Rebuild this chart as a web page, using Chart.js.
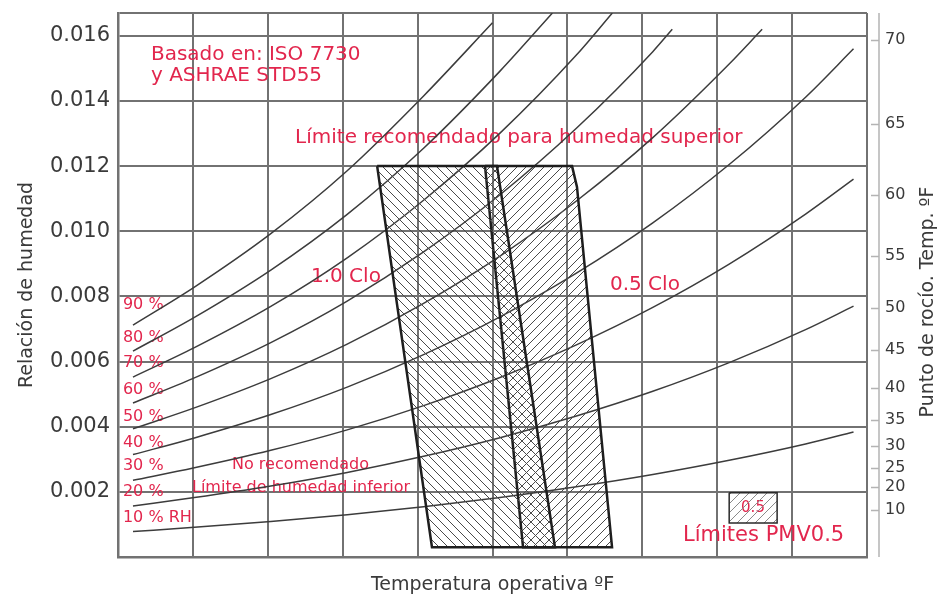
<!DOCTYPE html>
<html lang="es">
<head>
<meta charset="utf-8">
<title>Zona de confort ASHRAE</title>
<script src="https://cdn.jsdelivr.net/npm/chart.js@4.4.1/dist/chart.umd.min.js"></script>
<style>
  html, body { margin: 0; padding: 0; background: #fff; }
  #wrap { width: 939px; height: 601px; }
</style>
</head>
<body>
<div id="wrap"><canvas id="chart" width="939" height="601"></canvas></div>
<script>
// --- values ---
// operative temperature (ºF) where the RH curves were sampled
const tempF = [51, 55.1, 60.2, 65.3, 70.4, 75.5, 80.6, 85.7, 90.8, 95.9];

// humidity ratio of each RH curve at tempF
const rh10 = [0.000783, 0.000910, 0.001088, 0.001296, 0.001541, 0.001826, 0.002155, 0.002533, 0.002969, 0.003470];
const rh20 = [0.001568, 0.001823, 0.002179, 0.002597, 0.003091, 0.003663, 0.004326, 0.005086, 0.005966, 0.006979];
const rh30 = [0.002355, 0.002738, 0.003274, 0.003903, 0.004647, 0.005511, 0.006511, 0.007661, 0.008992, 0.010527];
const rh40 = [0.003144, 0.003656, 0.004373, 0.005215, 0.006212, 0.007370, 0.008712, 0.010257, 0.012048, 0.014116];
const rh50 = [0.003936, 0.004577, 0.005476, 0.006533, 0.007784, 0.009239, 0.010929, 0.012874, 0.015133];
const rh60 = [0.004729, 0.005500, 0.006583, 0.007856, 0.009365, 0.011120, 0.013161, 0.015513];
const rh70 = [0.005524, 0.006427, 0.007693, 0.009185, 0.010953, 0.013012, 0.015408];
const rh80 = [0.006321, 0.007356, 0.008808, 0.010519, 0.012549, 0.014916];
const rh90 = [0.007120, 0.008287, 0.009927, 0.011859, 0.014154];

// where each curve stops (10 % ... 90 %)
const rhEndT = [99.1, 99.1, 99.1, 99.1, 93.0, 87.0, 83.0, 79.0, 75.0];
const rhEndW = [0.00384, 0.0077, 0.0116, 0.0156, 0.0162, 0.0162, 0.0167, 0.0167, 0.0164];
const rhLabels = ['10 % RH', '20 %', '30 %', '40 %', '50 %', '60 %', '70 %', '80 %', '90 %'];

// comfort zones (corner points)
const clo10T = [67.3, 75.3, 79.17, 70.96, 67.3];
const clo10W = [0.012, 0.012, 0.0003, 0.0003, 0.012];
const clo05T = [74.5, 80.31, 80.64, 82.98, 77.04, 74.5];
const clo05W = [0.012, 0.012, 0.01136, 0.0003, 0.0003, 0.012];

// PMV legend swatch
const pmvBoxT = [90.8, 94.0, 94.0, 90.8, 90.8];
const pmvBoxW = [0.00197, 0.00197, 0.00104, 0.00104, 0.00197];

// axes
const yTicks = [0, 0.002, 0.004, 0.006, 0.008, 0.010, 0.012, 0.014, 0.016, 0.0167];
const dewPointLabels = ['70', '65', '60', '55', '50', '45', '40', '35', '30', '25', '20', '10'];
const dewPointRatios = [0.01587, 0.01329, 0.01111, 0.00924, 0.00764, 0.00636, 0.00519, 0.00421, 0.00341, 0.00273, 0.00215, 0.00144];

const RED = '#e2264d';
const GRID = '#727272';
const FONT = 'DejaVu Sans';

Chart.defaults.font.family = FONT;
Chart.defaults.color = '#3a3a3a';

const canvas = document.getElementById('chart');
const ctx = canvas.getContext('2d');

function hatch(dir, color) {
    const s = 9, c = document.createElement('canvas');
    c.width = s; c.height = s;
    const g = c.getContext('2d');
    g.strokeStyle = color; g.lineWidth = 1;
    g.beginPath();
    if (dir === 'back') {
        g.moveTo(0, 0); g.lineTo(s, s);
        g.moveTo(-1, s - 1); g.lineTo(1, s + 1);
        g.moveTo(s - 1, -1); g.lineTo(s + 1, 1);
    } else {
        g.moveTo(0, s); g.lineTo(s, 0);
        g.moveTo(-1, 1); g.lineTo(1, -1);
        g.moveTo(s - 1, s + 1); g.lineTo(s + 1, s - 1);
    }
    g.stroke();
    return ctx.createPattern(c, 'repeat');
}

const pts = (ts, ws) => ws.map((w, i) => ({ x: ts[i], y: w }));

const curveSets = [rh10, rh20, rh30, rh40, rh50, rh60, rh70, rh80, rh90].map((w, i) => ({
    label: rhLabels[i],
    data: [...pts(tempF, w), { x: rhEndT[i], y: rhEndW[i] }],
    borderColor: '#3c3c3c',
    borderWidth: 1.5,
    pointRadius: 0,
    fill: false,
    cubicInterpolationMode: 'monotone',
    order: 2
}));

const zoneSets = [
    { label: '1.0 Clo', data: pts(clo10T, clo10W), backgroundColor: hatch('back', '#4a4a4a') },
    { label: '0.5 Clo', data: pts(clo05T, clo05W), backgroundColor: hatch('fwd', '#4a4a4a') }
].map(d => Object.assign(d, { borderColor: '#1e1e1e', borderWidth: 2.5, fill: 'shape', pointRadius: 0, tension: 0, order: 1 }));

const pmvSet = {
    label: 'PMV', data: pts(pmvBoxT, pmvBoxW), backgroundColor: hatch('fwd', '#8a8a8a'),
    borderColor: '#2a2a2a', borderWidth: 1.5, fill: 'shape', pointRadius: 0, tension: 0, order: 1
};

// red notes, placed in data units
const notes = [
    { text: 'Basado en: ISO 7730', x: 52.2, y: 0.01541, size: 20 },
    { text: 'y ASHRAE STD55', x: 52.2, y: 0.01477, size: 20 },
    { text: 'Límite recomendado para humedad superior', x: 61.82, y: 0.01286, size: 20 },
    { text: '1.0 Clo', x: 62.88, y: 0.0086, size: 20 },
    { text: '0.5 Clo', x: 82.84, y: 0.00835, size: 20 },
    { text: '90 %', x: 50.33, y: 0.00774, size: 16 },
    { text: '80 %', x: 50.33, y: 0.00672, size: 16 },
    { text: '70 %', x: 50.33, y: 0.00596, size: 16 },
    { text: '60 %', x: 50.33, y: 0.00513, size: 16 },
    { text: '50 %', x: 50.33, y: 0.0043, size: 16 },
    { text: '40 %', x: 50.33, y: 0.0035, size: 16 },
    { text: '30 %', x: 50.33, y: 0.00279, size: 16 },
    { text: '20 %', x: 50.33, y: 0.0020, size: 16 },
    { text: '10 % RH', x: 50.33, y: 0.0012, size: 16 },
    { text: 'No recomendado', x: 57.61, y: 0.00282, size: 16 },
    { text: 'Límite de humedad inferior', x: 54.94, y: 0.00212, size: 16 },
    { text: 'Límites PMV0.5', x: 87.72, y: 0.000645, size: 21 },
    { text: '0.5', x: 92.39, y: 0.0015, size: 15, align: 'center' }
];

const notesPlugin = {
    id: 'notes',
    beforeDatasetsDraw(chart) {
        const { ctx, scales: { x, y } } = chart;
        ctx.save();
        ctx.fillStyle = RED;
        ctx.textBaseline = 'middle';
        notes.forEach(n => {
            ctx.font = `${n.size}px "${FONT}"`;
            ctx.textAlign = n.align || 'left';
            ctx.fillText(n.text, x.getPixelForValue(n.x), y.getPixelForValue(n.y));
        });
        ctx.restore();
    }
};

// detached dew point axis line with inward ticks, plus its title
const dewAxisPlugin = {
    id: 'dewAxis',
    afterDraw(chart) {
        const { ctx, chartArea: a, scales: { y2 } } = chart;
        const ax = a.right + 12;
        ctx.save();
        ctx.strokeStyle = '#b4b4b4';
        ctx.lineWidth = 1.5;
        ctx.beginPath();
        ctx.moveTo(ax, a.top); ctx.lineTo(ax, a.bottom);
        dewPointRatios.forEach(v => {
            const py = Math.round(y2.getPixelForValue(v)) + 0.5;
            ctx.moveTo(ax - 8, py); ctx.lineTo(ax, py);
        });
        ctx.stroke();
        ctx.translate(928, 302);
        ctx.rotate(-Math.PI / 2);
        ctx.fillStyle = '#3a3a3a';
        ctx.font = `19px "${FONT}"`;
        ctx.textAlign = 'center';
        ctx.textBaseline = 'middle';
        ctx.fillText('Punto de rocío. Temp. ºF', 0, 0);
        ctx.restore();
    }
};

const noPad = s => { s.paddingTop = 0; s.paddingBottom = 0; s.paddingLeft = 0; s.paddingRight = 0; };

new Chart(ctx, {
    type: 'line',
    data: { datasets: [...zoneSets, pmvSet, ...curveSets] },
    options: {
        responsive: false,
        animation: false,
        devicePixelRatio: 1,
        layout: { padding: { top: 13, left: 0, right: 0, bottom: 0 } },
        plugins: { legend: { display: false }, tooltip: { enabled: false } },
        scales: {
            x: {
                type: 'linear', min: 50, max: 100,
                ticks: { display: false, stepSize: 5 },
                grid: { color: GRID, lineWidth: 2, drawTicks: false },
                border: { color: GRID, width: 2.5 },
                title: { display: true, text: 'Temperatura operativa ºF', font: { size: 19 }, color: '#3a3a3a', padding: { top: 0, bottom: 5 } },
                afterFit: s => { noPad(s); s.height = 44; }
            },
            y: {
                type: 'linear', position: 'left', min: 0, max: 0.0167,
                afterBuildTicks: s => { s.ticks = yTicks.map(v => ({ value: v })); },
                ticks: {
                    font: { size: 21 }, color: '#3a3a3a', padding: 8,
                    callback: v => (v > 0 && v < 0.0166) ? v.toFixed(3) : ''
                },
                grid: { color: GRID, lineWidth: 2, drawTicks: false },
                border: { color: GRID, width: 2.5 },
                title: { display: true, text: 'Relación de humedad', font: { size: 19 }, color: '#3a3a3a', padding: { top: 16, bottom: 0 } },
                afterFit: s => { noPad(s); s.width = 118; }
            },
            y2: {
                type: 'linear', position: 'right', min: 0, max: 0.0167,
                afterBuildTicks: s => { s.ticks = dewPointRatios.map(v => ({ value: v })); },
                ticks: {
                    font: { size: 16 }, color: '#3a3a3a', padding: 18,
                    callback: (v, i) => dewPointLabels[i]
                },
                grid: { display: false, drawTicks: false },
                border: { display: false },
                afterFit: s => { noPad(s); s.width = 72; }
            }
        }
    },
    plugins: [notesPlugin, dewAxisPlugin]
});
</script>
</body>
</html>
